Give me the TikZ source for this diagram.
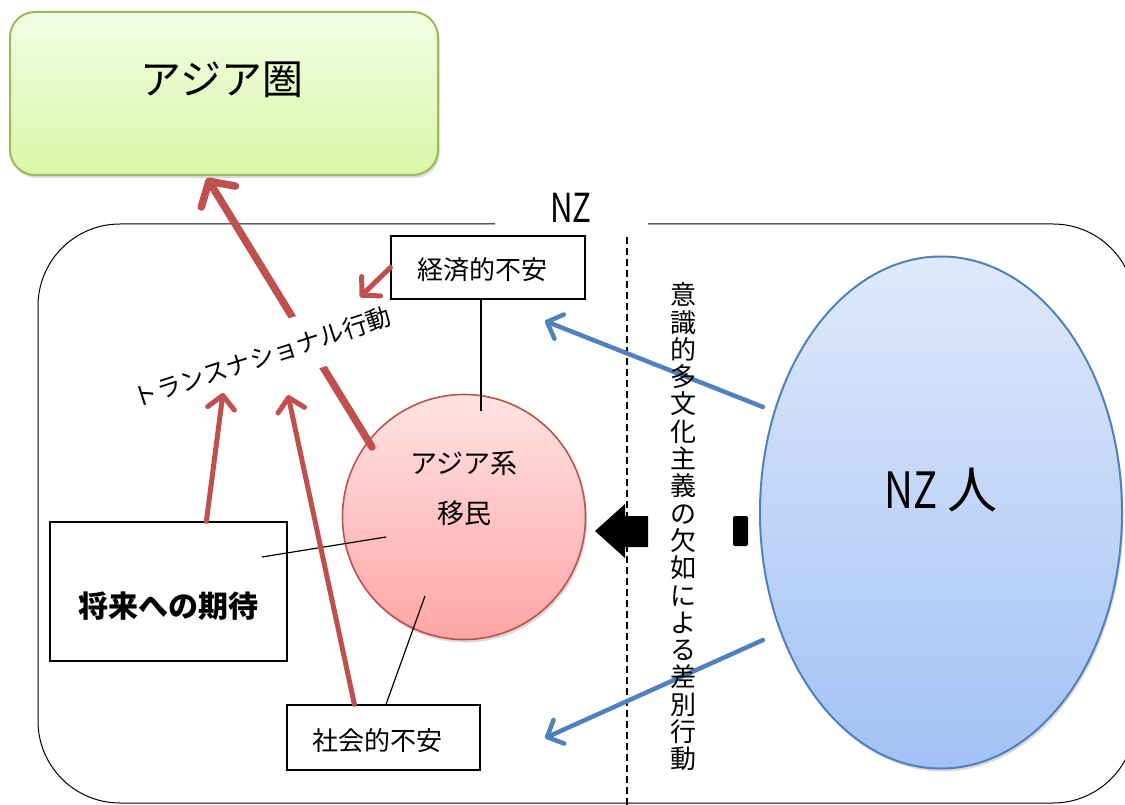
\documentclass[tikz,border=0pt]{standalone}
\usepackage{fontspec}
\usepackage{graphicx}
\setmainfont{Noto Sans CJK JP}
\usetikzlibrary{arrows.meta,shapes.geometric,shadows,calc}
\definecolor{redA}{HTML}{C0504D}
\definecolor{blueA}{HTML}{4F81BD}
\definecolor{greenL}{HTML}{9BBB59}
\definecolor{greenT}{HTML}{F2FDE5}
\definecolor{greenD}{HTML}{D8F7A6}
\definecolor{pinkT}{HTML}{FFE3E3}
\definecolor{pinkD}{HTML}{FFA5A5}
\definecolor{pinkL}{HTML}{C0504D}
\definecolor{blueT}{HTML}{DFE9FB}
\definecolor{blueD}{HTML}{A3C1F5}
\begin{document}
\begin{tikzpicture}[x=1pt,y=-1pt,
  txtbox/.style={draw=black, line width=1.2pt, fill=white, inner sep=0pt},
  softshadow/.style={drop shadow={opacity=0.3, shadow xshift=1.5pt, shadow yshift=-3pt}},
  bigred/.style={draw=redA, line width=7.5pt, line cap=round, -{Straight Barb[length=18pt,width=40pt,round]}},
  redarrow/.style={draw=redA, line width=5pt, line cap=round, -{Straight Barb[length=13pt,width=27pt,round]}},
  bluearrow/.style={draw=blueA, line width=4.5pt, line cap=round, -{Straight Barb[length=13pt,width=26pt,round]}},
  thinline/.style={draw=black, line width=1.2pt},
]
\useasboundingbox (0,0) rectangle (1125,805);

% NZ frame
\draw[line width=1pt, rounded corners=82pt] (495,224) -- (38,224) -- (38,803) -- (1135,803) -- (1135,224) -- (648,224);
\node[font=\fontsize{40}{40}\selectfont] (nzlbl) at (571,208) {\scalebox{0.78}[1]{NZ}};

% dashed divider
\coordinate (dtop) at (627,237);
\coordinate (dbot) at (627,805);
\draw[line width=1.5pt, dash pattern=on 7pt off 4pt] (dtop) -- (dbot);

% Asia box
\node[draw=greenL, line width=2pt, rounded corners=25pt, top color=greenT, bottom color=greenD,
      minimum width=428pt, minimum height=163pt, softshadow] (asia) at (224,93.5) {};
\node[font=\fontsize{41}{41}\selectfont] (asialbl) at (222,80) {アジア圏};

% text boxes
\node[txtbox, minimum width=194pt, minimum height=63pt] (eco) at (488,267.5) {};
\node[font=\fontsize{26}{26}\selectfont] (ecolbl) at (482,270) {経済的不安};
\node[txtbox, minimum width=237pt, minimum height=139pt] (hope) at (168.5,591.5) {};
\node[font=\fontsize{30}{30}\selectfont\bfseries] (hopelbl) at (168,606) {将来への期待};
\node[txtbox, minimum width=193pt, minimum height=65pt] (soc) at (383.5,737.5) {};
\node[font=\fontsize{26}{26}\selectfont] (soclbl) at (377,741) {社会的不安};

% immigrants circle
\node[ellipse, draw=pinkL, line width=1.6pt, top color=pinkT, bottom color=pinkD,
      minimum width=243pt, minimum height=245pt, inner sep=0pt, softshadow] (imm) at (464,517) {};
\node[align=center, font=\fontsize{27}{50}\selectfont] (immlbl) at (464,488) {アジア系\\移民};

% NZ people ellipse
\node[ellipse, draw=blueA, line width=2pt, top color=blueT, bottom color=blueD,
      minimum width=362pt, minimum height=512pt, inner sep=0pt, softshadow] (nzp) at (941,512.5) {};
\node[font=\fontsize{50}{50}\selectfont] (nzplbl) at (941,490) {\scalebox{0.8}[1]{NZ}\hspace{10pt}人};

% thin connectors
\coordinate (ecoend) at (481,411);
\draw[thinline] ($(eco.south)+(-7,0)$) -- (ecoend);
\coordinate (hopein) at (262,557);
\coordinate (hopeend) at (386,537);
\draw[thinline] (hopein) -- (hopeend);
\coordinate (socend) at (425,596);
\draw[thinline] ($(soc.north)+(2.5,0)$) -- (socend);

% big red arrow (circle -> Asia)
\coordinate (bigS) at (372,447);
\coordinate (bigT) at (207,178);
\draw[bigred] (bigS) -- (bigT);

% transnational label (white background breaks the arrow)
\node[fill=white, rotate=18, inner xsep=2pt, inner ysep=17pt, font=\fontsize{24.5}{24.5}\selectfont] (trans) at (262,357) {トランスナショナル行動};

% small red arrows
\coordinate (tA) at (223,393);
\coordinate (tB) at (288,395);
\coordinate (tC) at (360,297);
\draw[redarrow] ($(hope.north west)+(157,0)$) -- (tA);
\draw[redarrow] ($(soc.north west)+(68,0)$) -- (tB);
\draw[redarrow] (eco.west) -- (tC);

% blue arrows
\coordinate (bS1) at (763,407);
\coordinate (bT1) at (545,321);
\coordinate (bS2) at (763,640);
\coordinate (bT2) at (545,738);
\draw[bluearrow] (bS1) -- (bT1);
\draw[bluearrow] (bS2) -- (bT2);

% black block arrow (pieces either side of the vertical text)
\fill (595,531) -- (625,504) -- (625,516) -- (648,516) -- (648,547) -- (625,547) -- (625,558) -- cycle;
\fill[rounded corners=2pt] (733,516) rectangle (748,546);

% vertical label
\node[align=center, inner sep=0pt, font=\fontsize{26}{27.3}\selectfont] (vt) at (683,527)
  {意\\識\\的\\多\\文\\化\\主\\義\\の\\欠\\如\\に\\よ\\る\\差\\別\\行\\動};
\end{tikzpicture}
\end{document}
